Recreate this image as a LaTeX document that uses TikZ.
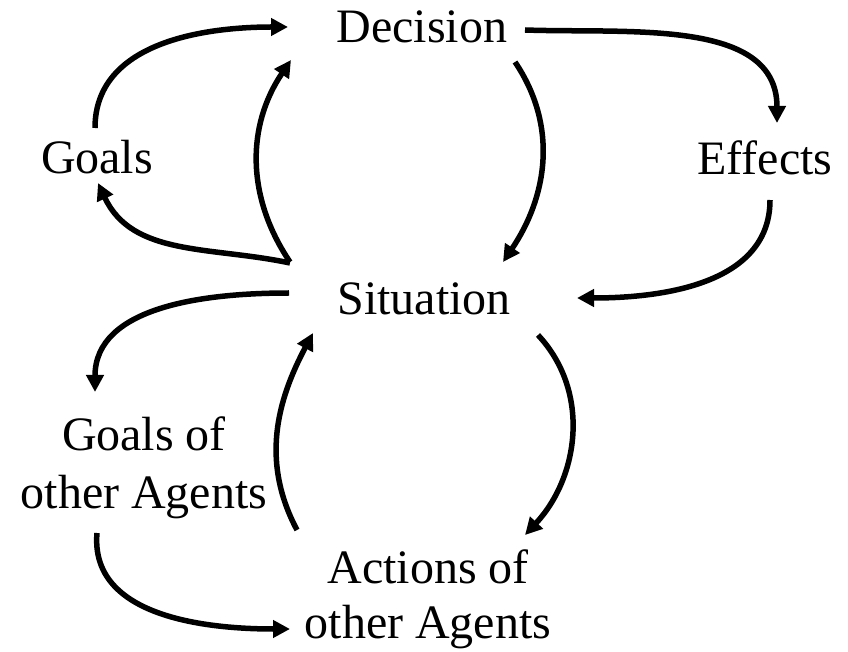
\documentclass[tikz,border=0pt]{standalone}
\usepackage{fontspec}
\setmainfont{Liberation Serif}
\usetikzlibrary{arrows.meta}
\begin{document}
\begin{tikzpicture}[x=1pt,y=1pt,
  lbl/.style={inner sep=0pt,font=\fontsize{48}{58}\selectfont},
  lbltwo/.style={lbl,align=center},
  flow/.style={line width=5.5pt,-{Triangle[length=17pt,width=17pt]}}]
\useasboundingbox (0,0) rectangle (848,651);

% labels
\node[lbl,anchor=base] (dec) at (422,608) {Decision};
\node[lbl,anchor=base] (goals) at (97,477) {Goals};
\node[lbl,anchor=base] (eff) at (765,476) {Effects};
\node[lbl,anchor=base] (sit) at (424,336) {Situation};
\node[lbltwo] (gother) at (144,183.25) {Goals of\\other Agents};
\node[lbltwo,font=\fontsize{48}{55}\selectfont] (aother) at (428,51.75) {Actions of\\other Agents};

% connectors
\draw[flow] ([shift={(-2,46)}]goals.base) to[out=90,in=180] ([shift={(-134,16)}]dec.base);
\draw[flow] ([shift={(-134,53)}]sit.base) to[out=124,in=-124] ([shift={(-131,-17)}]dec.base);
\draw[flow] ([shift={(93,-19)}]dec.base) to[out=-56,in=56] ([shift={(79,53)}]sit.base);
\draw[flow] ([shift={(103,13)}]dec.base) to[out=-2,in=90] ([shift={(12,52)}]eff.base);
\draw[flow] ([shift={(5,-25)}]eff.base) to[out=-90,in=0] ([shift={(153,17)}]sit.base);
\draw[flow] ([shift={(-134,52)}]sit.base) to[out=168,in=-65] ([shift={(1,-9)}]goals.base);
\draw[flow] ([shift={(-135,22)}]sit.base) to[out=180,in=90] ([shift={(-49,75.75)}]gother.center);
\draw[flow] ([shift={(-131,69.25)}]aother.center) to[out=118,in=-118] ([shift={(-111,-18)}]sit.base);
\draw[flow] ([shift={(114,-20)}]sit.base) to[out=-47,in=47] ([shift={(97,64.25)}]aother.center);
\draw[flow] ([shift={(-47,-65.25)}]gother.center) to[out=-95,in=180] ([shift={(-138,-29.75)}]aother.center);
\end{tikzpicture}
\end{document}
